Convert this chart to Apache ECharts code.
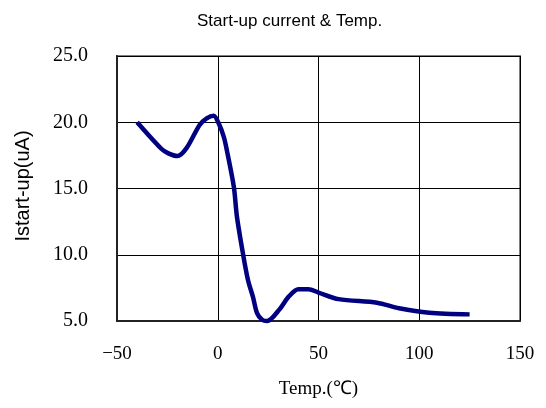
<!DOCTYPE html>
<html>
<head>
<meta charset="utf-8">
<script src="https://cdn.jsdelivr.net/npm/echarts@6/dist/echarts.min.js"></script>
<style>
  html, body { margin: 0; padding: 0; background: #fff; }
  #chart { width: 546px; height: 408px; }
</style>
</head>
<body>
<div id="chart"></div>
<script>
  // values
  var temps = [-40, -28, -24.5, -20, -15.5, -9, -5.5, -2, 0.5, 3, 4.5, 8, 9.5, 12.5, 15, 17.5, 19.5, 22, 24.5, 31, 35, 40, 45, 50, 60, 79, 90, 105, 125];
  var currents = [20.0, 18.0, 17.65, 17.45, 18.05, 19.8, 20.3, 20.5, 19.9, 18.9, 17.9, 15.1, 12.9, 10.1, 8.1, 6.8, 5.6, 5.1, 5.0, 5.95, 6.8, 7.4, 7.4, 7.15, 6.65, 6.38, 5.96, 5.63, 5.5];
  var xTicks = [-50, 0, 50, 100, 150];
  var yTicks = [5, 10, 15, 20, 25];

  var points = temps.map(function (t, i) { return [t, currents[i]]; });

  var chart = echarts.init(document.getElementById('chart'));
  chart.setOption({
    animation: false,
    title: {
      text: 'Start-up current & Temp.',
      left: 192,
      top: 8,
      textStyle: { fontFamily: 'Liberation Sans', fontSize: 17, fontWeight: 'normal', color: '#000' }
    },
    grid: {
      left: 117, right: 26, top: 56, bottom: 87,
      show: true, borderColor: '#808080', borderWidth: 2
    },
    xAxis: {
      type: 'value',
      min: xTicks[0], max: xTicks[xTicks.length - 1], interval: 50,
      name: 'Temp.(℃)',
      nameLocation: 'middle',
      nameGap: 59,
      nameTextStyle: { fontFamily: 'Liberation Serif', fontSize: 19, color: '#000' },
      axisLine: { onZero: false, lineStyle: { color: '#222', width: 2 } },
      axisTick: { show: false },
      axisLabel: {
        margin: 24,
        fontFamily: 'Liberation Serif', fontSize: 19, color: '#000',
        formatter: function (v) { return v < 0 ? '\u2212' + (-v) : String(v); }
      },
      splitLine: { lineStyle: { color: '#000', width: 1 } }
    },
    yAxis: {
      type: 'value',
      min: yTicks[0], max: yTicks[yTicks.length - 1], interval: 5,
      name: 'Istart-up(uA)',
      nameLocation: 'middle',
      nameGap: 84,
      nameRotate: 90,
      nameTextStyle: { fontFamily: 'Liberation Sans', fontSize: 20, color: '#000', padding: [0, 0, 0, 5] },
      axisLine: { show: true, onZero: false, lineStyle: { color: '#222', width: 2 } },
      axisTick: { show: false },
      axisLabel: {
        margin: 29,
        fontFamily: 'Liberation Serif', fontSize: 20, color: '#000',
        formatter: function (v) { return v.toFixed(1); }
      },
      splitLine: { lineStyle: { color: '#000', width: 1 } }
    },
    series: [{
      type: 'line',
      data: points,
      smooth: 0.3,
      showSymbol: false,
      clip: false,
      lineStyle: { color: '#000080', width: 4.5 }
    }]
  });
</script>
</body>
</html>
